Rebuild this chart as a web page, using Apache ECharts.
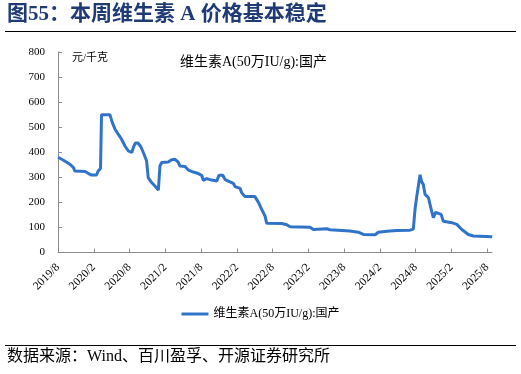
<!DOCTYPE html>
<html>
<head>
<meta charset="utf-8">
<script src="https://cdn.jsdelivr.net/npm/echarts@6/dist/echarts.min.js"></script>
<style>html,body{margin:0;padding:0;background:#fff;}#c{width:521px;height:374px;}</style>
</head>
<body>
<div id="c"></div>
<script>
var dates = ['2019-08-01','2019-08-20','2019-10-01','2019-10-18','2019-10-26','2019-12-17','2020-01-03','2020-01-20','2020-02-15','2020-02-23','2020-03-05','2020-03-10','2020-04-22','2020-05-04','2020-05-18','2020-06-04','2020-06-21','2020-07-08','2020-07-25','2020-08-12','2020-08-23','2020-09-01','2020-09-13','2020-09-28','2020-10-15','2020-10-27','2020-11-05','2020-11-22','2020-12-09','2020-12-26','2021-01-04','2021-01-13','2021-02-16','2021-03-03','2021-03-20','2021-04-06','2021-04-15','2021-05-10','2021-05-27','2021-06-22','2021-07-17','2021-08-04','2021-08-12','2021-08-29','2021-09-24','2021-10-20','2021-11-01','2021-11-20','2021-12-01','2021-12-18','2022-01-13','2022-01-22','2022-02-17','2022-02-25','2022-03-12','2022-05-02','2022-05-19','2022-06-06','2022-06-23','2022-07-01','2022-09-17','2022-10-12','2022-10-29','2023-02-09','2023-02-26','2023-05-03','2023-05-20','2023-08-30','2023-10-12','2023-11-08','2024-01-07','2024-01-23','2024-03-05','2024-04-26','2024-07-03','2024-07-19','2024-07-28','2024-08-06','2024-08-14','2024-08-23','2024-09-01','2024-09-09','2024-09-18','2024-10-05','2024-10-22','2024-10-30','2024-11-11','2024-12-09','2024-12-20','2025-02-02','2025-02-28','2025-03-23','2025-04-26','2025-05-21','2025-08-26'];
var prices = [380,372,352,340,325,323,316,309,309,325,335,550,550,519,492,472,452,425,405,399,425,437,437,422,390,365,299,279,265,249,345,359,361,370,372,361,345,343,329,321,315,308,288,295,289,285,308,308,292,285,276,263,256,239,223,223,201,172,145,117,116,111,103,101,92,95,91,86,81,72,71,81,85,88,89,93,175,222,219,310,282,272,232,219,162,139,160,152,125,119,112,92,72,66,63];
var yTicks = [0,100,200,300,400,500,600,700,800];
var seriesName = '维生素A(50万IU/g):国产';
var titleText = '图55：本周维生素 A 价格基本稳定';
var unitText = '元/千克';
var sourceText = '数据来源：Wind、百川盈孚、开源证券研究所';

var startY = 2019, startM = 8;
function toMonths(s) {
  var p = s.split('-');
  return (+p[0] - startY) * 12 + (+p[1] - startM) + (+p[2] - 1) / 30;
}
function monthLabel(v) {
  var t = Math.round(v) + (startM - 1);
  return (startY + Math.floor(t / 12)) + '/' + (t % 12 + 1);
}
var data = dates.map(function (d, i) { return [toMonths(d), prices[i]]; });

var serif = '"Liberation Serif", "Times New Roman", "Noto Sans CJK SC", serif';
var chart = echarts.init(document.getElementById('c'), null, {renderer: 'canvas'});
chart.setOption({
  animation: false,
  backgroundColor: '#fff',
  grid: {left: 58, right: 29, top: 52, bottom: 121.5, containLabel: false},
  xAxis: {
    type: 'value', min: 0, max: 72.8, interval: 6,
    axisLine: {lineStyle: {color: '#8c8c8c', width: 1}},
    axisTick: {inside: true, length: 4, lineStyle: {color: '#8c8c8c'}},
    splitLine: {show: false},
    axisLabel: {
      rotate: 45, color: '#000', fontFamily: serif, fontSize: 11.5, margin: 13,
      showMaxLabel: false,
      formatter: function (v) { return monthLabel(v); }
    }
  },
  yAxis: {
    type: 'value', min: yTicks[0], max: yTicks[yTicks.length - 1], interval: 100,
    axisLine: {show: true, lineStyle: {color: '#8c8c8c', width: 1}},
    axisTick: {show: true, inside: true, length: 4, lineStyle: {color: '#8c8c8c'}},
    splitLine: {show: false},
    axisLabel: {color: '#000', fontFamily: serif, fontSize: 11, margin: 13}
  },
  legend: {
    bottom: 49, left: 'center',
    icon: 'rect', itemWidth: 27, itemHeight: 3, itemGap: 4,
    textStyle: {color: '#000', fontFamily: serif, fontSize: 12},
    data: [seriesName]
  },
  series: [{
    name: seriesName, type: 'line', data: data, showSymbol: false, smooth: false,
    lineStyle: {color: '#2f74c9', width: 3},
    itemStyle: {color: '#2f74c9'}
  }],
  graphic: [
    {type: 'text', left: 7, top: 4, style: {text: titleText, fill: '#1f3a74', font: 'bold 21px ' + serif}},
    {type: 'line', shape: {x1: 5, y1: 31.5, x2: 516, y2: 31.5}, style: {stroke: '#000', lineWidth: 1}},
    {type: 'text', left: 72, top: 53, style: {text: unitText, fill: '#000', font: '11px ' + serif}},
    {type: 'text', left: 180, top: 55, style: {text: seriesName, fill: '#000', font: '14px ' + serif}},
    {type: 'line', shape: {x1: 5, y1: 345.5, x2: 516, y2: 345.5}, style: {stroke: '#000', lineWidth: 1}},
    {type: 'text', left: 7, top: 349, style: {text: sourceText, fill: '#000', font: '16px ' + serif}}
  ]
});
</script>
</body>
</html>
